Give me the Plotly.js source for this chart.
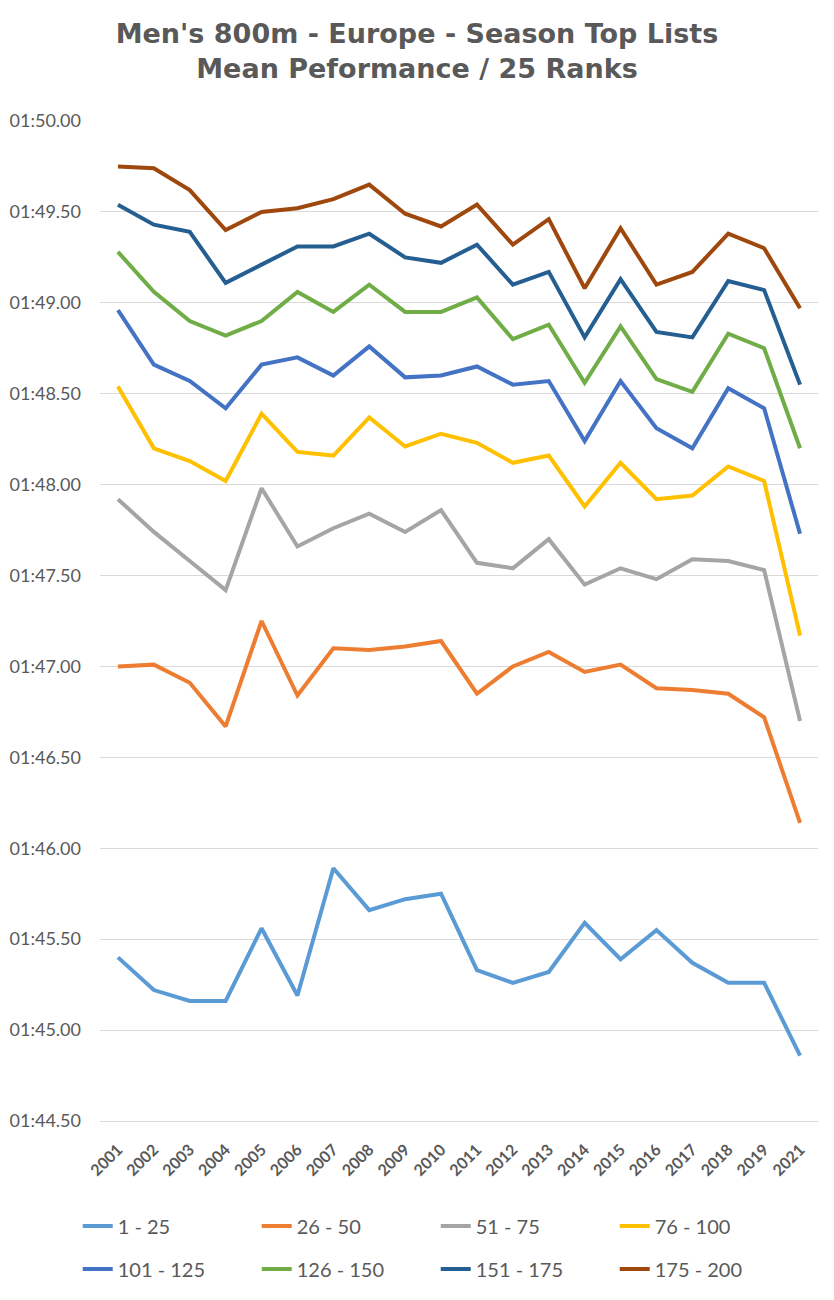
<!DOCTYPE html>
<html>
<head>
<meta charset="utf-8">
<script src="https://cdn.plot.ly/plotly-3.0.1.min.js"></script>
<style>
  body { margin: 0; background: #fff; }
  #chart { width: 834px; height: 1300px; outline: 1px solid #d9d9d9; outline-offset: -1px; }
</style>
</head>
<body>
<div id="chart"></div>
<script>
// seasons (no 2020 list)
var years = ["2001", "2002", "2003", "2004", "2005", "2006", "2007", "2008", "2009", "2010",
             "2011", "2012", "2013", "2014", "2015", "2016", "2017", "2018", "2019", "2021"];

// mean times in seconds (1:45.40 -> 105.40)
var r1_25    = [105.40, 105.22, 105.16, 105.16, 105.56, 105.19, 105.89, 105.66, 105.72, 105.75,
                105.33, 105.26, 105.32, 105.59, 105.39, 105.55, 105.37, 105.26, 105.26, 104.86];
var r26_50   = [107.00, 107.01, 106.91, 106.67, 107.25, 106.84, 107.10, 107.09, 107.11, 107.14,
                106.85, 107.00, 107.08, 106.97, 107.01, 106.88, 106.87, 106.85, 106.72, 106.14];
var r51_75   = [107.92, 107.74, 107.58, 107.42, 107.98, 107.66, 107.76, 107.84, 107.74, 107.86,
                107.57, 107.54, 107.70, 107.45, 107.54, 107.48, 107.59, 107.58, 107.53, 106.70];
var r76_100  = [108.54, 108.20, 108.13, 108.02, 108.39, 108.18, 108.16, 108.37, 108.21, 108.28,
                108.23, 108.12, 108.16, 107.88, 108.12, 107.92, 107.94, 108.10, 108.02, 107.17];
var r101_125 = [108.96, 108.66, 108.57, 108.42, 108.66, 108.70, 108.60, 108.76, 108.59, 108.60,
                108.65, 108.55, 108.57, 108.24, 108.57, 108.31, 108.20, 108.53, 108.42, 107.73];
var r126_150 = [109.28, 109.06, 108.90, 108.82, 108.90, 109.06, 108.95, 109.10, 108.95, 108.95,
                109.03, 108.80, 108.88, 108.56, 108.87, 108.58, 108.51, 108.83, 108.75, 108.20];
var r151_175 = [109.54, 109.43, 109.39, 109.11, 109.21, 109.31, 109.31, 109.38, 109.25, 109.22,
                109.32, 109.10, 109.17, 108.81, 109.13, 108.84, 108.81, 109.12, 109.07, 108.55];
var r175_200 = [109.75, 109.74, 109.62, 109.40, 109.50, 109.52, 109.57, 109.65, 109.49, 109.42,
                109.54, 109.32, 109.46, 109.08, 109.41, 109.10, 109.17, 109.38, 109.30, 108.97];

// y axis ticks
var tickVals  = [104.5, 105, 105.5, 106, 106.5, 107, 107.5, 108, 108.5, 109, 109.5, 110];
var tickTexts = ["01:44.50", "01:45.00", "01:45.50", "01:46.00", "01:46.50", "01:47.00",
                 "01:47.50", "01:48.00", "01:48.50", "01:49.00", "01:49.50", "01:50.00"];

var grey = "#595959";
var font = "Lato, 'Open Sans', sans-serif";

function line(name, vals, color, legend) {
  return {
    x: years, y: vals, name: name, type: "scatter", mode: "lines",
    line: { color: color, width: 4 },
    legend: legend
  };
}

var data = [
  line("1 - 25", r1_25, "#5B9BD5", "legend"),
  line("26 - 50", r26_50, "#ED7D31", "legend"),
  line("51 - 75", r51_75, "#A5A5A5", "legend"),
  line("76 - 100", r76_100, "#FFC000", "legend"),
  line("101 - 125", r101_125, "#4472C4", "legend2"),
  line("126 - 150", r126_150, "#70AD47", "legend2"),
  line("151 - 175", r151_175, "#255E91", "legend2"),
  line("175 - 200", r175_200, "#9E480E", "legend2")
];

// two legend rows, four columns each
var legendBase = {
  orientation: "h", xanchor: "left", yanchor: "middle", x: -0.031,
  entrywidth: 134, itemwidth: 30, traceorder: "normal",
  font: { family: font, size: 20, color: grey },
  bgcolor: "rgba(0,0,0,0)"
};

var layout = {
  width: 834, height: 1300,
  margin: { l: 100, r: 16, t: 121, b: 177 },
  paper_bgcolor: "#fff", plot_bgcolor: "#fff",
  font: { family: font, color: grey },
  title: {
    text: "Men's 800m - Europe - Season Top Lists<br>Mean Peformance / 25 Ranks",
    font: { family: "'DejaVu Sans', sans-serif", size: 27, color: grey, weight: "bold" },
    x: 0.5, xanchor: "center", y: 0.967, yanchor: "top"
  },
  xaxis: {
    type: "category", range: [-0.5, 19.5],
    tickangle: -45, showgrid: false, zeroline: false,
    showline: true, linecolor: "#d9d9d9", linewidth: 1,
    ticks: "", ticklabelstandoff: 12,
    tickfont: { family: font, size: 16, color: grey, weight: "bold" }
  },
  yaxis: {
    range: [104.5, 110], tickmode: "array", tickvals: tickVals, ticktext: tickTexts,
    showgrid: true, gridcolor: "#d9d9d9", gridwidth: 1, zeroline: false, showline: false,
    ticks: "", ticklabelstandoff: 18,
    tickfont: { family: font, size: 18, color: grey }
  },
  legend: Object.assign({}, legendBase, { y: -0.105 }),
  legend2: Object.assign({}, legendBase, { y: -0.148 }),
  showlegend: true
};

Plotly.newPlot("chart", data, layout, { displayModeBar: false, staticPlot: true });
</script>
</body>
</html>
